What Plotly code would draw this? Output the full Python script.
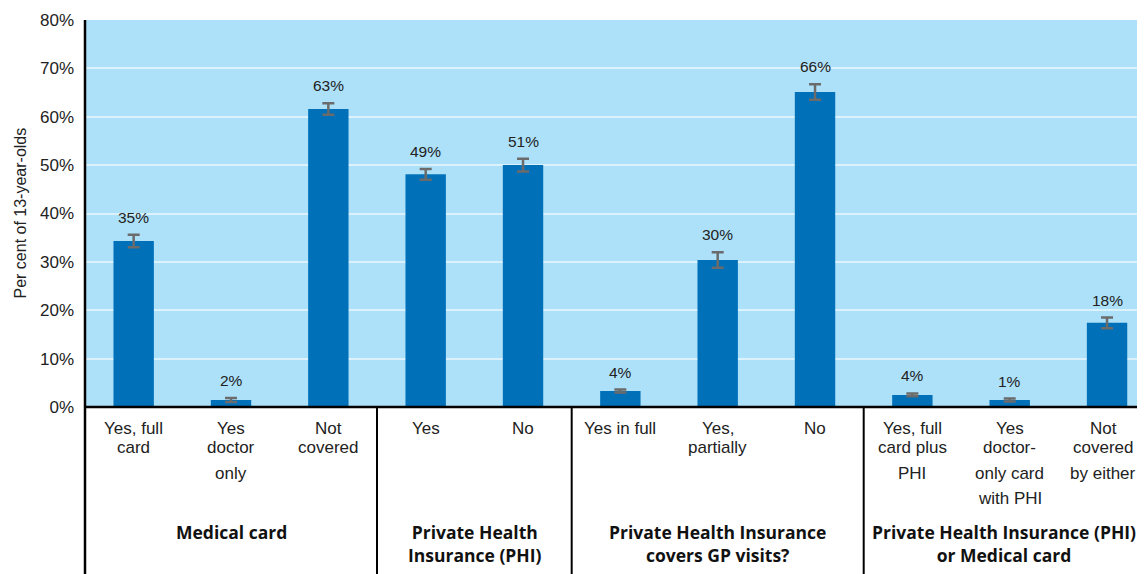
import plotly.graph_objects as go

categories = ["Yes, full card", "Yes doctor only", "Not covered", "Yes", "No",
              "Yes in full", "Yes, partially", "No",
              "Yes, full card plus PHI", "Yes doctor-only card with PHI", "Not covered by either"]
cat_lines = [["Yes, full", "card"], ["Yes", "doctor", "only"], ["Not", "covered"],
             ["Yes"], ["No"],
             ["Yes in full"], ["Yes,", "partially"], ["No"],
             ["Yes, full", "card plus", "PHI"], ["Yes", "doctor-", "only card", "with PHI"],
             ["Not", "covered", "by either"]]
values = [34.3, 1.45, 61.6, 48.1, 50.0, 3.3, 30.4, 65.1, 2.5, 1.45, 17.4]
errors = [1.3, 0.4, 1.2, 1.1, 1.3, 0.3, 1.6, 1.6, 0.3, 0.3, 1.1]
value_labels = ["35%", "2%", "63%", "49%", "51%", "4%", "30%", "66%", "4%", "1%", "18%"]
groups = [("Medical card", 0, 2), ("Private Health<br>Insurance (PHI)", 3, 4),
          ("Private Health Insurance<br>covers GP visits?", 5, 7),
          ("Private Health Insurance (PHI)<br>or Medical card", 8, 10)]
y_ticks = [0, 10, 20, 30, 40, 50, 60, 70, 80]
y_tick_text = ["0%", "10%", "20%", "30%", "40%", "50%", "60%", "70%", "80%"]

OFF = 8  # page body margin
W, H = 1145 - OFF, 574 - OFF
top, bottom_px, left = 20 - OFF, 407 - OFF, 85 - OFF
plot_h = bottom_px - top
plot_w = W - left

def py(page_pix):
    return (bottom_px - (page_pix - OFF)) / plot_h

def px(page_pix):
    return ((page_pix - OFF) - left) / plot_w

FONT = "Liberation Sans, Arial, Helvetica"
x = list(range(len(categories)))
last = len(categories) - 1
fig = go.Figure()
fig.add_trace(go.Bar(
    x=x, y=values, marker_color="#0070b9", marker_line_width=0,
    error_y=dict(type="data", array=errors, visible=True, color="#6b6b6b", thickness=2.5, width=6),
    width=0.415, hoverinfo="skip"))

annotations = []
for i, (v, e, lab) in enumerate(zip(values, errors, value_labels)):
    annotations.append(dict(x=i, y=v + e, xref="x", yref="y", text=lab, showarrow=False,
                            yanchor="bottom", yshift=7,
                            font=dict(family=FONT, size=15.5, color="#222")))
line_pix = [428, 448, 473, 498]
for i, lines in enumerate(cat_lines):
    for j, t in enumerate(lines):
        annotations.append(dict(x=i, y=py(line_pix[j]), xref="x", yref="paper", text=t,
                                showarrow=False, yanchor="middle", xshift=-4 if i == last else 0,
                                font=dict(family=FONT, size=17, color="#222")))
for name, s, e in groups:
    annotations.append(dict(x=(s + e) / 2, y=py(518), xref="x", yref="paper", text="<b>" + name + "</b>",
                            showarrow=False, yanchor="top", align="center",
                            xshift=-6 if e == last else 0,
                            font=dict(family="Open Sans, Noto Sans", size=17.5, color="#111")))
annotations.append(dict(x=px(20), y=0.5, xref="paper", yref="paper", text="Per cent of 13-year-olds",
                        textangle=-90, showarrow=False, xanchor="center", yanchor="middle",
                        font=dict(family=FONT, size=16, color="#222")))

shapes = []
ybot = py(580)
for xd in [2.5, 4.5, 7.5]:
    shapes.append(dict(type="line", xref="x", yref="paper", x0=xd, x1=xd, y0=0, y1=ybot,
                       line=dict(color="black", width=2)))
shapes.append(dict(type="line", xref="paper", yref="paper", x0=0, x1=0, y0=ybot, y1=1,
                   line=dict(color="black", width=2.5)))
shapes.append(dict(type="line", xref="paper", yref="paper", x0=0, x1=1, y0=0, y1=0,
                   line=dict(color="black", width=2.5)))

fig.update_layout(
    width=W, height=H, margin=dict(l=left, r=0, t=top, b=H - bottom_px, autoexpand=False),
    plot_bgcolor="#ade1fa", paper_bgcolor="white", showlegend=False,
    annotations=annotations, shapes=shapes,
    xaxis=dict(range=[-0.5, 10.39], showticklabels=False, showgrid=False, zeroline=False, fixedrange=True),
    yaxis=dict(range=[0, 80], tickmode="array", tickvals=y_ticks, ticktext=y_tick_text,
               showgrid=True, gridcolor="#dbf1fc", gridwidth=2, zeroline=False, showline=False,
               ticklabelstandoff=10,
               tickfont=dict(family=FONT, size=17, color="#222")),
)
fig.write_html("out.html")
